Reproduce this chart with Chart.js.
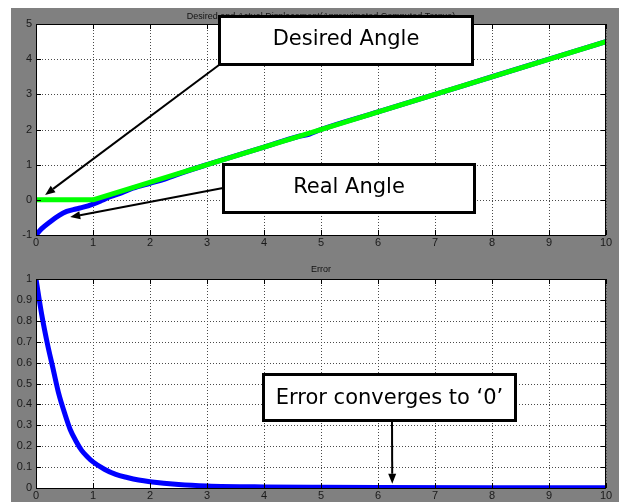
<!DOCTYPE html>
<html lang="en">
<head>
  <meta charset="UTF-8">
  <title>Displacement and Error</title>
  <script src="https://cdn.jsdelivr.net/npm/chart.js"></script>
  <style>
    body { margin: 0; background: #fff; }
    #figure { position: absolute; left: 11px; top: 8px; width: 608px; height: 494px; background: #808080; }
    canvas { position: absolute; left: 0; }
    #topChart { top: 0; }
    #bottomChart { top: 242px; }
  </style>
</head>
<body>
  <div id="figure">
    <canvas id="topChart" width="608" height="242"></canvas>
    <canvas id="bottomChart" width="608" height="252"></canvas>
  </div>

  <script>
    // time axis ticks (seconds)
    const xTicks = [0, 1, 2, 3, 4, 5, 6, 7, 8, 9, 10];

    // desired angle: hold at 0, then ramp
    const desiredT = [0, 1, 10];
    const desiredVal = [0, 0, 4.5];

    // real angle (merges into the ramp after ~2.5 s)
    const realT = [0, 0.1, 0.25, 0.4, 0.54, 0.7, 0.83, 1, 1.15, 1.3, 1.5, 1.7, 2, 2.26, 2.6, 3, 4, 4.6, 4.8, 5, 6, 7, 8, 9, 10];
    const realVal = [-1, -0.82, -0.62, -0.45, -0.33, -0.26, -0.21, -0.12, -0.02, 0.09, 0.2, 0.33, 0.47, 0.59, 0.79, 1.0, 1.5, 1.8, 1.87, 2.0, 2.5, 3.0, 3.5, 4.0, 4.5];
    const topYTicks = [-1, 0, 1, 2, 3, 4, 5];

    // tracking error
    const errT = [0, 0.1, 0.2, 0.3, 0.4, 0.5, 0.6, 0.7, 0.8, 0.9, 1.0, 1.2, 1.4, 1.6, 1.8, 2.0, 2.5, 3, 4, 5, 6, 8, 10];
    const errVal = [1, 0.83, 0.69, 0.57, 0.45, 0.36, 0.28, 0.225, 0.18, 0.15, 0.125, 0.09, 0.065, 0.05, 0.038, 0.03, 0.017, 0.01, 0.005, 0.003, 0.002, 0.001, 0.001];
    const errYTicks = [0, 0.1, 0.2, 0.3, 0.4, 0.5, 0.6, 0.7, 0.8, 0.9, 1];

    const toPoints = (xs, ys) => xs.map((x, i) => ({ x: x, y: ys[i] }));

    // white axes box, dotted grid, solid frame and inward tick marks like a matlab plot
    const axesBox = {
      id: 'axesBox',
      beforeDatasetsDraw(chart) {
        const a = chart.chartArea, ctx = chart.ctx;
        const xs = chart.scales.x, ys = chart.scales.y;
        ctx.save();
        ctx.fillStyle = '#ffffff';
        ctx.fillRect(a.left, a.top, a.right - a.left, a.bottom - a.top);
        ctx.strokeStyle = '#4a4a4a';
        ctx.lineWidth = 1;
        ctx.setLineDash([1, 2]);
        ctx.beginPath();
        xs.ticks.forEach(t => {
          const px = Math.round(xs.getPixelForValue(t.value)) + 0.5;
          ctx.moveTo(px, a.top); ctx.lineTo(px, a.bottom);
        });
        ys.ticks.forEach(t => {
          const py = Math.round(ys.getPixelForValue(t.value)) + 0.5;
          ctx.moveTo(a.left, py); ctx.lineTo(a.right, py);
        });
        ctx.stroke();
        ctx.restore();
      },
      afterDatasetsDraw(chart, args, opts) {
        const a = chart.chartArea, ctx = chart.ctx;
        const xs = chart.scales.x, ys = chart.scales.y;
        ctx.save();
        ctx.strokeStyle = '#000';
        ctx.lineWidth = 1;
        ctx.strokeRect(a.left + 0.5, a.top + 0.5, a.right - a.left - 1, a.bottom - a.top);
        ctx.beginPath();
        xs.ticks.forEach(t => {
          const px = Math.round(xs.getPixelForValue(t.value)) + 0.5;
          ctx.moveTo(px, a.bottom); ctx.lineTo(px, a.bottom - 5);
          ctx.moveTo(px, a.top); ctx.lineTo(px, a.top + 5);
        });
        ys.ticks.forEach(t => {
          const py = Math.round(ys.getPixelForValue(t.value)) + 0.5;
          ctx.moveTo(a.left, py); ctx.lineTo(a.left + 5, py);
          ctx.moveTo(a.right, py); ctx.lineTo(a.right - 5, py);
        });
        ctx.stroke();

        // axes title
        ctx.fillStyle = '#111';
        ctx.font = '9px "Liberation Sans", Arial, sans-serif';
        ctx.textAlign = 'center';
        ctx.textBaseline = 'alphabetic';
        ctx.fillText(opts.title, (a.left + a.right) / 2, opts.titleY);
        ctx.restore();
      }
    };

    // callout boxes with arrows pointing at data positions
    const callouts = {
      id: 'callouts',
      afterDraw(chart, args, opts) {
        const ctx = chart.ctx, xs = chart.scales.x, ys = chart.scales.y;
        ctx.save();
        (opts.items || []).forEach(c => {
          const tx = xs.getPixelForValue(c.tip[0]);
          const ty = ys.getPixelForValue(c.tip[1]);
          const [sx, sy] = c.from;
          const ang = Math.atan2(ty - sy, tx - sx);
          const head = 10, half = 4;
          const bx = tx - head * Math.cos(ang), by = ty - head * Math.sin(ang);
          ctx.strokeStyle = '#000';
          ctx.fillStyle = '#000';
          ctx.lineWidth = 2;
          ctx.beginPath();
          ctx.moveTo(sx, sy);
          ctx.lineTo(bx, by);
          ctx.stroke();
          ctx.beginPath();
          ctx.moveTo(tx, ty);
          ctx.lineTo(bx + half * Math.sin(ang), by - half * Math.cos(ang));
          ctx.lineTo(bx - half * Math.sin(ang), by + half * Math.cos(ang));
          ctx.closePath();
          ctx.fill();

          const [x0, y0, x1, y1] = c.box;
          ctx.fillStyle = '#fff';
          ctx.fillRect(x0, y0, x1 - x0, y1 - y0);
          ctx.lineWidth = 3;
          ctx.strokeRect(x0 + 1.5, y0 + 1.5, x1 - x0 - 3, y1 - y0 - 3);
          ctx.fillStyle = '#000';
          ctx.font = '21px "DejaVu Sans", sans-serif';
          ctx.textAlign = 'center';
          ctx.textBaseline = 'alphabetic';
          ctx.fillText(c.text, (x0 + x1) / 2, c.baseline);
        });
        ctx.restore();
      }
    };

    function makeAxes(canvasId, datasets, yTicks, yMin, yMax, padTop, xHeight, title, titleY, items) {
      const fixTicks = values => scale => { scale.ticks = values.map(v => ({ value: v })); };
      const tickFont = { family: '"Liberation Sans", Arial, sans-serif', size: 11 };
      return new Chart(document.getElementById(canvasId), {
        type: 'line',
        data: { datasets: datasets },
        options: {
          responsive: false,
          animation: false,
          devicePixelRatio: 1,
          layout: { padding: { top: padTop, right: 13, left: 0, bottom: 0 } },
          elements: { point: { radius: 0 }, line: { borderCapStyle: 'round', borderJoinStyle: 'round' } },
          plugins: {
            legend: { display: false },
            tooltip: { enabled: false },
            axesBox: { title: title, titleY: titleY },
            callouts: { items: items }
          },
          scales: {
            x: {
              type: 'linear', min: 0, max: 10,
              afterBuildTicks: fixTicks(xTicks),
              afterFit: s => { s.height = xHeight; },
              grid: { display: false, drawTicks: false },
              border: { display: false },
              ticks: { color: '#1a1a1a', font: tickFont, padding: 1, maxRotation: 0, autoSkip: false }
            },
            y: {
              type: 'linear', min: yMin, max: yMax,
              afterBuildTicks: fixTicks(yTicks),
              afterFit: s => { s.width = 25; },
              grid: { display: false, drawTicks: false },
              border: { display: false },
              ticks: { color: '#1a1a1a', font: tickFont, padding: 4, autoSkip: false,
                       callback: v => String(Math.round(v * 10) / 10) }
            }
          }
        },
        plugins: [axesBox, callouts]
      });
    }

    makeAxes('topChart', [
      { data: toPoints(desiredT, desiredVal), borderColor: '#00ff00', borderWidth: 5, clip: 0 },
      { data: toPoints(realT, realVal), borderColor: '#0000ff', borderWidth: 5, cubicInterpolationMode: 'monotone', clip: 0 }
    ], topYTicks, -1, 5, 16, 15,
      'Desired and Actual Displacement(Approximated Computed Torque)', 11,
      [
        { text: 'Desired Angle', box: [207, 7, 463, 58], baseline: 37, from: [208, 57], tip: [0.16, 0.14] },
        { text: 'Real Angle', box: [211, 155, 465, 206], baseline: 185, from: [212, 180], tip: [0.6, -0.49] }
      ]);

    makeAxes('bottomChart', [
      { data: toPoints(errT, errVal), borderColor: '#0000ff', borderWidth: 5, cubicInterpolationMode: 'monotone', clip: 0 }
    ], errYTicks, 0, 1, 29, 14,
      'Error', 22,
      [
        { text: 'Error converges to \u20180\u2019', box: [251, 123, 506, 172], baseline: 154, from: [381, 170], tip: [6.25, 0.02] }
      ]);
  </script>
</body>
</html>
